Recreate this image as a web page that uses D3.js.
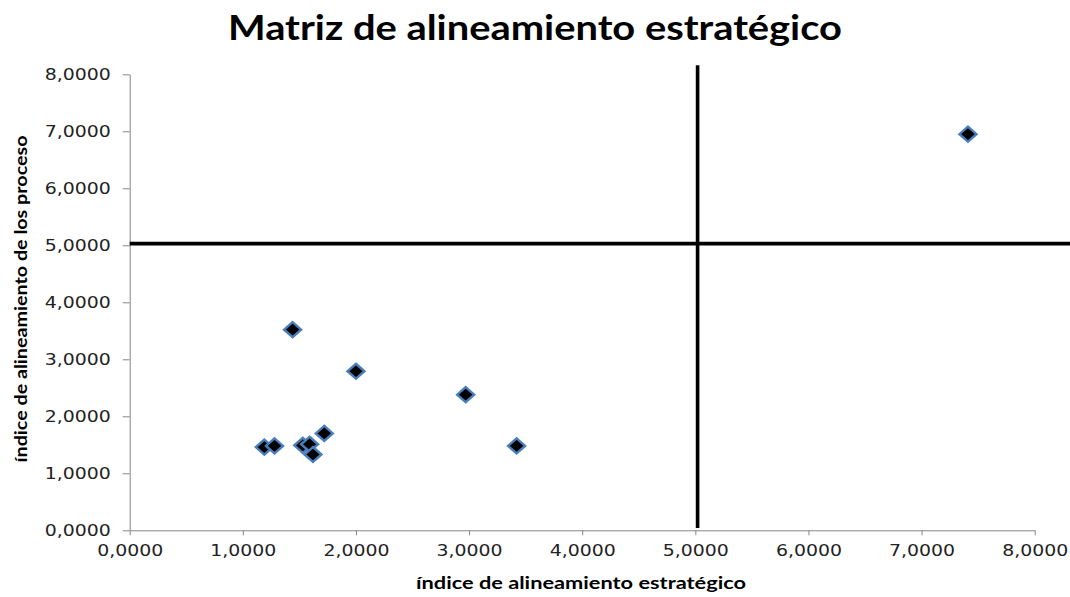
<!DOCTYPE html>
<html>
<head>
<meta charset="utf-8">
<script src="https://cdn.jsdelivr.net/npm/d3@7"></script>
<style>
  html, body { margin: 0; padding: 0; background: #fff; }
  svg { display: block; }
</style>
</head>
<body>
<svg id="chart" width="1070" height="597"></svg>
<script>
// Strategic alignment index (x) vs. process alignment index (y), one value per process
const strategicIndex = [7.41, 1.44, 2.00, 2.97, 3.42, 1.72, 1.19, 1.28, 1.53, 1.59, 1.62];
const processIndex   = [6.95, 3.52, 2.79, 2.38, 1.48, 1.70, 1.46, 1.48, 1.49, 1.51, 1.33];

// Quadrant dividers
const dividerX = 5.02;
const dividerY = 5.03;

const axisTicks = [0, 1, 2, 3, 4, 5, 6, 7, 8];
const chartTitle = "Matriz de alineamiento estratégico";
const xTitle = "índice de alineamiento estratégico";
const yTitle = "índice de alineamiento de los proceso";

(function draw() {
  const svg = d3.select("#chart");
  const W = 1070;
  const plotLeft = 129.7, plotRight = 1034.7, plotTop = 74.3, plotBottom = 530.3;

  const x = d3.scaleLinear().domain([0, 8]).range([plotLeft, plotRight]);
  const y = d3.scaleLinear().domain([0, 8]).range([plotBottom, plotTop]);

  const fmt = v => d3.format(".4f")(v).replace(".", ",");
  const axisGrey = "#868686";
  const tickFont = "'DejaVu Sans', Verdana, sans-serif";
  const boldFont = "Lato, 'Open Sans', sans-serif";

  // Title
  svg.append("text")
    .attr("x", 535).attr("y", 40)
    .attr("text-anchor", "middle")
    .attr("font-family", boldFont)
    .attr("font-weight", "bold")
    .attr("font-size", 35)
    .attr("textLength", 614)
    .attr("lengthAdjust", "spacingAndGlyphs")
    .attr("fill", "#000")
    .text(chartTitle);

  // Axes
  const xAxis = svg.append("g")
    .attr("transform", `translate(0,${plotBottom})`)
    .call(d3.axisBottom(x).tickValues(axisTicks).tickFormat(fmt)
      .tickSize(5).tickSizeOuter(0).tickPadding(9));

  const yAxis = svg.append("g")
    .attr("transform", `translate(${plotLeft},0)`)
    .call(d3.axisLeft(y).tickValues(axisTicks).tickFormat(fmt)
      .tickSize(7).tickSizeOuter(0).tickPadding(12));

  [xAxis, yAxis].forEach(g => {
    g.select(".domain").attr("stroke", axisGrey).attr("stroke-width", 1);
    g.selectAll(".tick line").attr("stroke", axisGrey).attr("stroke-width", 1);
    g.selectAll(".tick text")
      .attr("font-family", tickFont)
      .attr("font-size", 16.5)
      .attr("fill", "#222")
      .attr("textLength", 66)
      .attr("lengthAdjust", "spacingAndGlyphs");
  });

  // Axis titles
  svg.append("text")
    .attr("x", 581).attr("y", 589)
    .attr("text-anchor", "middle")
    .attr("font-family", boldFont)
    .attr("font-weight", "bold")
    .attr("font-size", 17)
    .attr("textLength", 330)
    .attr("lengthAdjust", "spacingAndGlyphs")
    .attr("fill", "#000")
    .text(xTitle);

  svg.append("text")
    .attr("transform", `translate(27,299) rotate(-90)`)
    .attr("text-anchor", "middle")
    .attr("font-family", boldFont)
    .attr("font-weight", "bold")
    .attr("font-size", 17)
    .attr("textLength", 327)
    .attr("lengthAdjust", "spacingAndGlyphs")
    .attr("fill", "#000")
    .text(yTitle);

  // Quadrant divider lines
  svg.append("line")
    .attr("x1", x(dividerX)).attr("x2", x(dividerX))
    .attr("y1", y(0.04)).attr("y2", y(8.16))
    .attr("stroke", "#000").attr("stroke-width", 3.6);

  svg.append("line")
    .attr("x1", x(0)).attr("x2", W)
    .attr("y1", y(dividerY)).attr("y2", y(dividerY))
    .attr("stroke", "#000").attr("stroke-width", 3.6);

  // Diamond markers
  const diamond = "M0,-7.5 L8.5,0 L0,7.5 L-8.5,0 Z";
  svg.append("g")
    .selectAll("path")
    .data(strategicIndex.map((v, i) => ({ sx: v, py: processIndex[i] })))
    .join("path")
    .attr("d", diamond)
    .attr("transform", d => `translate(${x(d.sx)},${y(d.py)})`)
    .attr("fill", "#000")
    .attr("stroke", "#4a7ebb")
    .attr("stroke-width", 2.4)
    .attr("stroke-linejoin", "miter");
})();
</script>
</body>
</html>
